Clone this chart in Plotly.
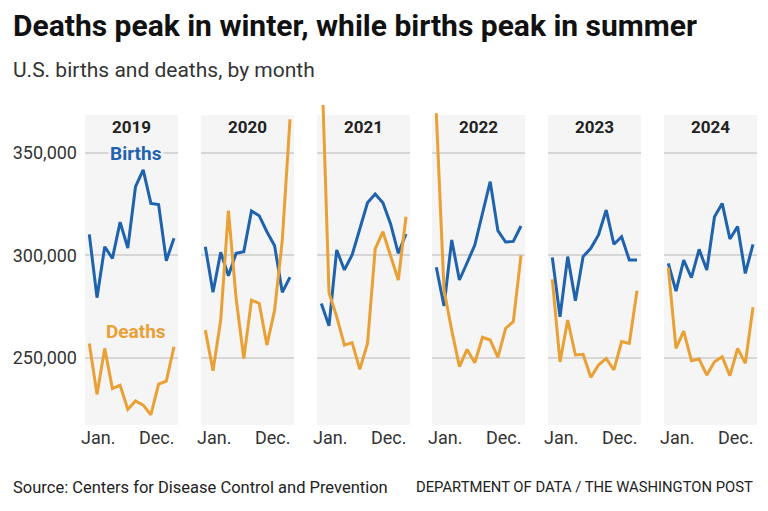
import plotly.graph_objects as go

years = ["2019", "2020", "2021", "2022", "2023", "2024"]
months = list(range(1, 13))

# thousands
births = {
    "2019": [310.2, 279.4, 304.2, 298.5, 316.2, 303.6, 333.4, 341.6, 325.3, 324.7, 297.4, 308.3],
    "2020": [304.2, 282.0, 301.5, 290.1, 301.0, 301.8, 321.6, 319.3, 311.5, 304.7, 282.0, 289.4],
    "2021": [276.6, 265.7, 302.6, 292.9, 300.2, 313.1, 325.6, 329.9, 325.6, 315.3, 301.0, 310.4],
    "2022": [294.2, 275.3, 307.5, 288.0, 296.4, 305.0, 320.5, 335.9, 312.0, 306.5, 306.8, 314.3],
    "2023": [299.0, 270.1, 299.4, 277.9, 299.4, 303.4, 309.9, 322.1, 305.4, 309.1, 297.7, 297.7],
    "2024": [296.1, 282.6, 297.7, 289.1, 302.9, 292.9, 318.8, 325.3, 308.0, 314.0, 291.2, 305.4],
}
deaths = {
    "2019": [257.1, 232.3, 254.7, 235.1, 236.7, 225.0, 229.1, 227.1, 222.4, 237.3, 238.8, 255.5],
    "2020": [263.6, 243.8, 268.5, 321.8, 279.1, 249.8, 278.2, 276.6, 256.3, 273.3, 307.5, 366.2],
    "2021": [400.0, 281.8, 270.1, 256.3, 257.5, 244.5, 257.1, 303.1, 311.5, 300.2, 288.0, 318.8],
    "2022": [369.2, 283.1, 263.6, 245.8, 254.2, 247.7, 260.1, 258.8, 250.3, 264.4, 267.7, 300.0],
    "2023": [288.3, 248.1, 268.5, 251.5, 251.8, 240.6, 246.6, 249.8, 244.2, 258.0, 257.1, 282.8],
    "2024": [294.0, 254.7, 263.1, 248.7, 249.5, 241.7, 248.2, 250.6, 241.4, 254.7, 247.4, 274.7],
}
y_ticks = [250, 300, 350]
y_tick_labels = ["250,000", "300,000", "350,000"]

BLUE = "#1f62ae"
ORANGE = "#e9a035"
OFF = 8  # page body margin
W, H = 768 - 2 * OFF, 511 - 2 * OFF


def px(x):
    return (x - OFF) / W


def py(y):
    return 1 - (y - OFF) / H


panel_left = [85, 201, 317, 432, 548, 664]
panel_w = 93
y_top, y_bot = 373.2, 217.4
dom_y = [py(425), py(105)]

fig = go.Figure()
layout = {}
for i, yr in enumerate(years):
    n = "" if i == 0 else str(i + 1)
    x0 = px(panel_left[i])
    x1 = px(panel_left[i] + panel_w)
    layout["xaxis" + n] = dict(domain=[x0, x1], range=[0.44, 12.52], visible=False,
                               anchor="y" + n)
    layout["yaxis" + n] = dict(domain=dom_y, range=[y_bot, y_top], anchor="x" + n,
                               tickvals=y_ticks, ticktext=y_tick_labels if i == 0 else None,
                               showticklabels=(i == 0), gridcolor="#d6d6d6", gridwidth=1.5,
                               zeroline=False, showline=False, ticks="",
                               tickfont=dict(size=18, color="#333"), ticklabelstandoff=7)
    # panel background
    fig.add_shape(type="rect", xref="x" + n + " domain", yref="y" + n,
                  x0=0, x1=1, y0=y_bot, y1=368.3, fillcolor="#f5f5f5",
                  line_width=0, layer="below")
    fig.add_trace(go.Scatter(x=months, y=births[yr], mode="lines",
                             line=dict(color=BLUE, width=3), xaxis="x" + n, yaxis="y" + n,
                             showlegend=False))
    fig.add_trace(go.Scatter(x=months, y=deaths[yr], mode="lines",
                             line=dict(color=ORANGE, width=3), xaxis="x" + n, yaxis="y" + n,
                             showlegend=False))
    fig.add_annotation(text="<b>" + yr + "</b>", x=(x0 + x1) / 2, y=py(127), xref="paper",
                       yref="paper", xanchor="center", yanchor="middle", showarrow=False,
                       font=dict(size=17, color="#222"))
    fig.add_annotation(text="Jan.", x=px(panel_left[i] - 6), y=py(437), xref="paper",
                       yref="paper", xanchor="left", yanchor="middle", showarrow=False,
                       font=dict(size=18, color="#333"))
    fig.add_annotation(text="Dec.", x=px(panel_left[i] + panel_w - 1), y=py(437),
                       xref="paper", yref="paper", xanchor="right", yanchor="middle",
                       showarrow=False, font=dict(size=18, color="#333"))

fig.add_annotation(text="<b>Births</b>", x=px(136), y=py(153), xref="paper", yref="paper",
                   xanchor="center", yanchor="middle", showarrow=False,
                   font=dict(size=19, color=BLUE), bgcolor="#f5f5f5")
fig.add_annotation(text="<b>Deaths</b>", x=px(136), y=py(331), xref="paper", yref="paper",
                   xanchor="center", yanchor="middle", showarrow=False,
                   font=dict(size=19, color=ORANGE), bgcolor="#f5f5f5")

fig.add_annotation(text="<b>Deaths peak in winter, while births peak in summer</b>",
                   x=px(11), y=py(25), xref="paper", yref="paper", xanchor="left",
                   yanchor="middle", showarrow=False, font=dict(size=30, color="#111"))
fig.add_annotation(text="U.S. births and deaths, by month", x=px(11), y=py(70),
                   xref="paper", yref="paper", xanchor="left", yanchor="middle",
                   showarrow=False, font=dict(size=21, color="#333"))
fig.add_annotation(text="Source: Centers for Disease Control and Prevention", x=px(11),
                   y=py(487), xref="paper", yref="paper", xanchor="left", yanchor="middle",
                   showarrow=False, font=dict(size=16.5, color="#222"))
fig.add_annotation(text="DEPARTMENT OF DATA / THE WASHINGTON POST", x=px(755),
                   y=py(487), xref="paper", yref="paper", xanchor="right", yanchor="middle",
                   showarrow=False, font=dict(size=14.8, color="#222"))

fig.update_layout(width=W, height=H, margin=dict(l=0, r=0, t=0, b=0),
                  plot_bgcolor="rgba(0,0,0,0)", paper_bgcolor="white",
                  font=dict(family="Roboto"), **layout)
fig.write_html("out.html")
